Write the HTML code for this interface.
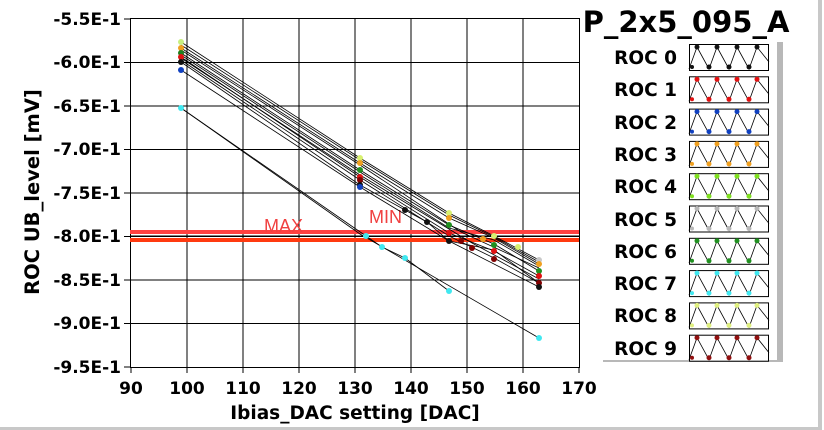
<!DOCTYPE html>
<html><head><meta charset="utf-8"><style>
body{margin:0;background:#fff;}
svg{display:block;font-family:"DejaVu Sans","Liberation Sans",sans-serif;}
.t{font-weight:bold;font-size:17px;fill:#000}
</style></head><body>
<svg width="824" height="430" viewBox="0 0 824 430" xmlns="http://www.w3.org/2000/svg">
<rect width="824" height="430" fill="#fff"/>
<line x1="0" y1="428.5" x2="820" y2="428.5" stroke="#c8c8c8" stroke-width="3"/>
<line x1="820" y1="0" x2="820" y2="430" stroke="#c8c8c8" stroke-width="4"/>
<g stroke="#000" stroke-width="1">
<rect x="130.5" y="18.5" width="449" height="349" fill="none"/>
<line x1="187" y1="18" x2="187" y2="367"/><line x1="243" y1="18" x2="243" y2="367"/><line x1="299" y1="18" x2="299" y2="367"/><line x1="355" y1="18" x2="355" y2="367"/><line x1="411" y1="18" x2="411" y2="367"/><line x1="467" y1="18" x2="467" y2="367"/><line x1="523" y1="18" x2="523" y2="367"/>
<line x1="130" y1="62.5" x2="579" y2="62.5"/><line x1="130" y1="106" x2="579" y2="106"/><line x1="130" y1="149.5" x2="579" y2="149.5"/><line x1="130" y1="193" x2="579" y2="193"/><line x1="130" y1="236.5" x2="579" y2="236.5"/><line x1="130" y1="280" x2="579" y2="280"/><line x1="130" y1="323.5" x2="579" y2="323.5"/>
</g>
<g stroke="#000" stroke-width="1">
<line x1="124" y1="19" x2="130" y2="19"/><line x1="124" y1="62.5" x2="130" y2="62.5"/><line x1="124" y1="106" x2="130" y2="106"/><line x1="124" y1="149.5" x2="130" y2="149.5"/><line x1="124" y1="193" x2="130" y2="193"/><line x1="124" y1="236.5" x2="130" y2="236.5"/><line x1="124" y1="280" x2="130" y2="280"/><line x1="124" y1="323.5" x2="130" y2="323.5"/><line x1="124" y1="367" x2="130" y2="367"/>
<line x1="131" y1="367" x2="131" y2="373"/><line x1="187" y1="367" x2="187" y2="373"/><line x1="243" y1="367" x2="243" y2="373"/><line x1="299" y1="367" x2="299" y2="373"/><line x1="355" y1="367" x2="355" y2="373"/><line x1="411" y1="367" x2="411" y2="373"/><line x1="467" y1="367" x2="467" y2="373"/><line x1="523" y1="367" x2="523" y2="373"/><line x1="579" y1="367" x2="579" y2="373"/>
</g>
<g text-anchor="end">
<text x="121" y="25" class="t">-5.5E-1</text><text x="121" y="68" class="t">-6.0E-1</text><text x="121" y="112" class="t">-6.5E-1</text><text x="121" y="155" class="t">-7.0E-1</text><text x="121" y="199" class="t">-7.5E-1</text><text x="121" y="242" class="t">-8.0E-1</text><text x="121" y="286" class="t">-8.5E-1</text><text x="121" y="329" class="t">-9.0E-1</text><text x="121" y="373" class="t">-9.5E-1</text>
</g>
<g text-anchor="middle">
<text x="131" y="394" class="t">90</text><text x="187" y="394" class="t">100</text><text x="243" y="394" class="t">110</text><text x="299" y="394" class="t">120</text><text x="355" y="394" class="t">130</text><text x="411" y="394" class="t">140</text><text x="467" y="394" class="t">150</text><text x="523" y="394" class="t">160</text><text x="579" y="394" class="t">170</text>
<text x="355" y="419" class="t" style="font-size:18.5px">Ibias_DAC setting [DAC]</text>
<text transform="translate(39,192) rotate(-90)" class="t" style="font-size:19.5px">ROC UB_level [mV]</text>
</g>
<line x1="130" y1="232" x2="579" y2="232" stroke="#ff4040" stroke-width="4"/>
<line x1="130" y1="240" x2="579" y2="240" stroke="#ff3a10" stroke-width="4"/>
<line x1="130" y1="236" x2="579" y2="236" stroke="#000" stroke-width="1"/>
<text x="264" y="232" font-size="18" fill="#f04040" font-family="Liberation Sans,sans-serif">MAX</text>
<text x="369" y="223" font-size="18" fill="#f04040" font-family="Liberation Sans,sans-serif">MIN</text>
<g fill="none" stroke="#000" stroke-width="0.8">
<polyline points="181,42 360,158 449,213 494,236 539,260"/>
<polyline points="181,48 360,163 449,218 494,238 539,264"/>
<polyline points="181,45 360,160 449,215 494,237 539,262"/>
<polyline points="181,53 360,170 449,225 494,244 539,271"/>
<polyline points="181,57 360,177 449,233 494,251 539,276"/>
<polyline points="181,55 360,172 449,228 494,240 539,266"/>
<polyline points="181,62 360,185 405,210 427,222 449,241 539,287"/>
<polyline points="181,60 360,180 449,236 494,258 539,283"/>
<polyline points="181,70 360,187 449,241 494,250 539,283"/>
<polyline points="181,50 360,165 461,232 539,268"/>
<polyline points="181,58 360,175 472,243 539,279"/>
<polyline points="181,108 366,236 382,247 405,258 449,291"/>
<polyline points="181,108 360,234 539,338"/>
</g>
<g>
<circle cx="181" cy="42" r="3" fill="#c8f080"/><circle cx="181" cy="48" r="3" fill="#f0a020"/><circle cx="181" cy="53" r="3" fill="#208020"/><circle cx="181" cy="57" r="3" fill="#e01010"/><circle cx="181" cy="62" r="3" fill="#111"/><circle cx="181" cy="70" r="3" fill="#1040c0"/><circle cx="181" cy="108" r="3" fill="#40e8f0"/>
<circle cx="360" cy="158" r="3" fill="#d8f070"/><circle cx="360" cy="163" r="3" fill="#f0a020"/><circle cx="360" cy="170" r="3" fill="#209020"/><circle cx="360" cy="177" r="3" fill="#e01010"/><circle cx="360" cy="180" r="3" fill="#800000"/><circle cx="360" cy="185" r="3" fill="#111"/><circle cx="360" cy="187" r="3" fill="#1040c0"/>
<circle cx="405" cy="210" r="3" fill="#111"/><circle cx="427" cy="222" r="3" fill="#111"/>
<circle cx="449" cy="213" r="3" fill="#d8f070"/><circle cx="449" cy="218" r="3" fill="#f0a020"/><circle cx="449" cy="225" r="3" fill="#209020"/><circle cx="449" cy="233" r="3" fill="#e01010"/><circle cx="449" cy="241" r="3" fill="#111"/>
<circle cx="461" cy="241" r="3" fill="#800000"/><circle cx="472" cy="248" r="3" fill="#800000"/><circle cx="483" cy="239" r="3" fill="#f0a020"/>
<circle cx="494" cy="236" r="3" fill="#d8f070"/><circle cx="494" cy="245" r="3" fill="#209020"/><circle cx="494" cy="251" r="3" fill="#e01010"/><circle cx="494" cy="259" r="3" fill="#800000"/><circle cx="518" cy="247" r="3" fill="#d8f070"/>
<circle cx="539" cy="260" r="3" fill="#c8c8c8"/><circle cx="539" cy="264" r="3" fill="#f0a020"/><circle cx="539" cy="271" r="3" fill="#209020"/><circle cx="539" cy="276" r="3" fill="#e01010"/><circle cx="539" cy="283" r="3" fill="#800000"/><circle cx="539" cy="287" r="3" fill="#111"/>
<circle cx="366" cy="236" r="3" fill="#40e8f0"/><circle cx="382" cy="247" r="3" fill="#40e8f0"/><circle cx="405" cy="258" r="3" fill="#40e8f0"/><circle cx="449" cy="291" r="3" fill="#40e8f0"/><circle cx="539" cy="338" r="3" fill="#40e8f0"/>
</g>
<text x="686" y="32" text-anchor="middle" font-size="29" font-weight="bold" fill="#000" font-family="DejaVu Sans,sans-serif">P_2x5_095_A</text>
<rect x="777" y="42" width="6" height="319" fill="#b8b8b8"/>
<line x1="603" y1="361" x2="783" y2="361" stroke="#b8b8b8" stroke-width="2"/>
<defs>
<polyline id="zz" points="689,69 697,47 709,69 717,47 729,69 737,47 749,69 757,47 769,62" fill="none" stroke="#000" stroke-width="0.8"/>
</defs>
<g font-size="18.5" font-weight="bold" text-anchor="end" font-family="DejaVu Sans,sans-serif">
<text x="677" y="64">ROC 0</text><text x="677" y="96">ROC 1</text><text x="677" y="129">ROC 2</text><text x="677" y="161">ROC 3</text><text x="677" y="193">ROC 4</text><text x="677" y="226">ROC 5</text><text x="677" y="258">ROC 6</text><text x="677" y="290">ROC 7</text><text x="677" y="322">ROC 8</text><text x="677" y="355">ROC 9</text>
</g>
<g>
<g transform="translate(0,0)"><rect x="689.5" y="44.5" width="79" height="26" fill="#fff" stroke="#000"/><use href="#zz"/><g fill="#111"><circle cx="697" cy="47" r="2.5"/><circle cx="717" cy="47" r="2.5"/><circle cx="737" cy="47" r="2.5"/><circle cx="757" cy="47" r="2.5"/><circle cx="709" cy="67" r="2.5"/><circle cx="729" cy="67" r="2.5"/><circle cx="749" cy="67" r="2.5"/><circle cx="692" cy="67" r="2"/></g></g>
<g transform="translate(0,32.3)"><rect x="689.5" y="44.5" width="79" height="26" fill="#fff" stroke="#000"/><use href="#zz"/><g fill="#e01010"><circle cx="697" cy="47" r="2.5"/><circle cx="717" cy="47" r="2.5"/><circle cx="737" cy="47" r="2.5"/><circle cx="757" cy="47" r="2.5"/><circle cx="709" cy="67" r="2.5"/><circle cx="729" cy="67" r="2.5"/><circle cx="749" cy="67" r="2.5"/><circle cx="692" cy="67" r="2"/></g></g>
<g transform="translate(0,64.6)"><rect x="689.5" y="44.5" width="79" height="26" fill="#fff" stroke="#000"/><use href="#zz"/><g fill="#1040c0"><circle cx="697" cy="47" r="2.5"/><circle cx="717" cy="47" r="2.5"/><circle cx="737" cy="47" r="2.5"/><circle cx="757" cy="47" r="2.5"/><circle cx="709" cy="67" r="2.5"/><circle cx="729" cy="67" r="2.5"/><circle cx="749" cy="67" r="2.5"/><circle cx="692" cy="67" r="2"/></g></g>
<g transform="translate(0,96.9)"><rect x="689.5" y="44.5" width="79" height="26" fill="#fff" stroke="#000"/><use href="#zz"/><g fill="#f0a020"><circle cx="697" cy="47" r="2.5"/><circle cx="717" cy="47" r="2.5"/><circle cx="737" cy="47" r="2.5"/><circle cx="757" cy="47" r="2.5"/><circle cx="709" cy="67" r="2.5"/><circle cx="729" cy="67" r="2.5"/><circle cx="749" cy="67" r="2.5"/><circle cx="692" cy="67" r="2"/></g></g>
<g transform="translate(0,129.2)"><rect x="689.5" y="44.5" width="79" height="26" fill="#fff" stroke="#000"/><use href="#zz"/><g fill="#80e020"><circle cx="697" cy="47" r="2.5"/><circle cx="717" cy="47" r="2.5"/><circle cx="737" cy="47" r="2.5"/><circle cx="757" cy="47" r="2.5"/><circle cx="709" cy="67" r="2.5"/><circle cx="729" cy="67" r="2.5"/><circle cx="749" cy="67" r="2.5"/><circle cx="692" cy="67" r="2"/></g></g>
<g transform="translate(0,161.5)"><rect x="689.5" y="44.5" width="79" height="26" fill="#fff" stroke="#000"/><use href="#zz"/><g fill="#b8b8b8"><circle cx="697" cy="47" r="2.5"/><circle cx="717" cy="47" r="2.5"/><circle cx="737" cy="47" r="2.5"/><circle cx="757" cy="47" r="2.5"/><circle cx="709" cy="67" r="2.5"/><circle cx="729" cy="67" r="2.5"/><circle cx="749" cy="67" r="2.5"/><circle cx="692" cy="67" r="2"/></g></g>
<g transform="translate(0,193.8)"><rect x="689.5" y="44.5" width="79" height="26" fill="#fff" stroke="#000"/><use href="#zz"/><g fill="#209020"><circle cx="697" cy="47" r="2.5"/><circle cx="717" cy="47" r="2.5"/><circle cx="737" cy="47" r="2.5"/><circle cx="757" cy="47" r="2.5"/><circle cx="709" cy="67" r="2.5"/><circle cx="729" cy="67" r="2.5"/><circle cx="749" cy="67" r="2.5"/><circle cx="692" cy="67" r="2"/></g></g>
<g transform="translate(0,226.1)"><rect x="689.5" y="44.5" width="79" height="26" fill="#fff" stroke="#000"/><use href="#zz"/><g fill="#40e8f0"><circle cx="697" cy="47" r="2.5"/><circle cx="717" cy="47" r="2.5"/><circle cx="737" cy="47" r="2.5"/><circle cx="757" cy="47" r="2.5"/><circle cx="709" cy="67" r="2.5"/><circle cx="729" cy="67" r="2.5"/><circle cx="749" cy="67" r="2.5"/><circle cx="692" cy="67" r="2"/></g></g>
<g transform="translate(0,258.4)"><rect x="689.5" y="44.5" width="79" height="26" fill="#fff" stroke="#000"/><use href="#zz"/><g fill="#e0f080"><circle cx="697" cy="47" r="2.5"/><circle cx="717" cy="47" r="2.5"/><circle cx="737" cy="47" r="2.5"/><circle cx="757" cy="47" r="2.5"/><circle cx="709" cy="67" r="2.5"/><circle cx="729" cy="67" r="2.5"/><circle cx="749" cy="67" r="2.5"/><circle cx="692" cy="67" r="2"/></g></g>
<g transform="translate(0,290.7)"><rect x="689.5" y="44.5" width="79" height="26" fill="#fff" stroke="#000"/><use href="#zz"/><g fill="#901010"><circle cx="697" cy="47" r="2.5"/><circle cx="717" cy="47" r="2.5"/><circle cx="737" cy="47" r="2.5"/><circle cx="757" cy="47" r="2.5"/><circle cx="709" cy="67" r="2.5"/><circle cx="729" cy="67" r="2.5"/><circle cx="749" cy="67" r="2.5"/><circle cx="692" cy="67" r="2"/></g></g>
</g>
</svg>
</body></html>
